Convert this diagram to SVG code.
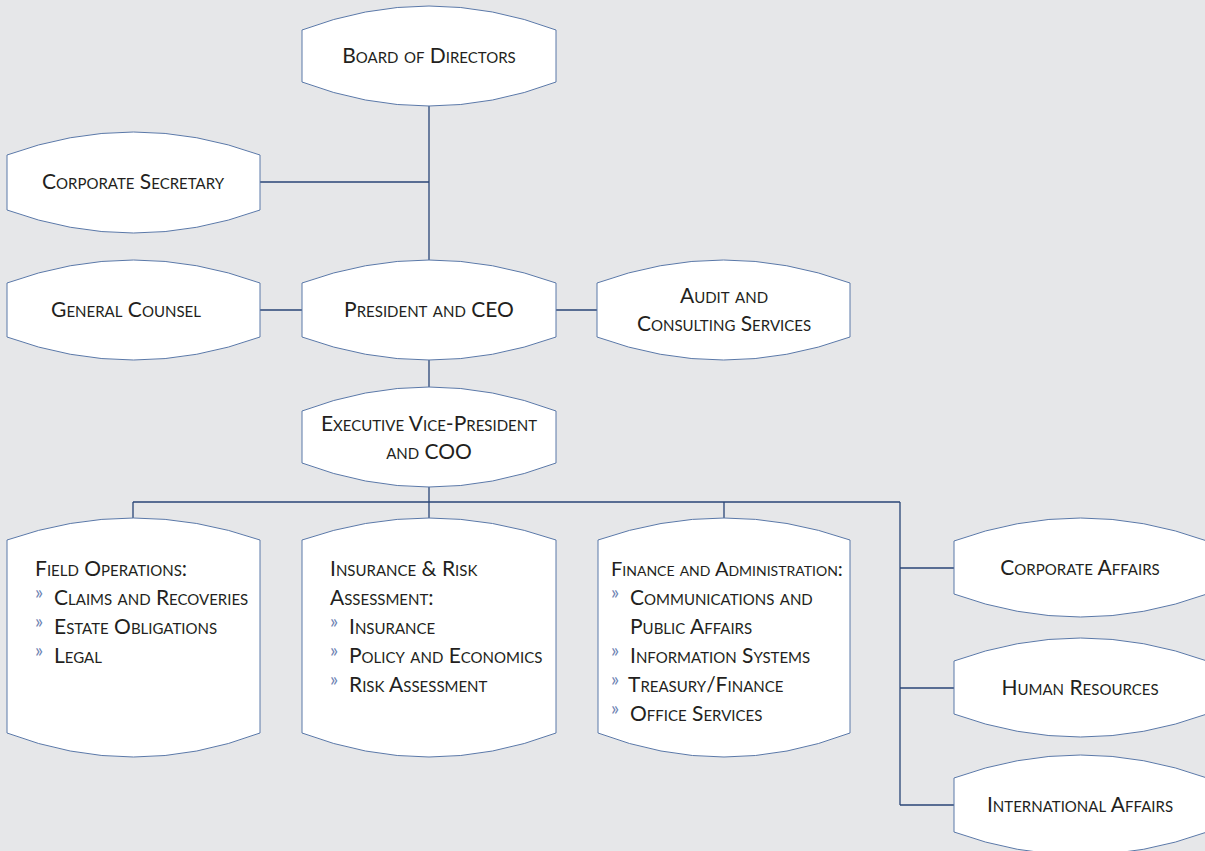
<svg xmlns="http://www.w3.org/2000/svg" width="1205" height="851" viewBox="0 0 1205 851">
<style>
.bg{fill:#e6e7e9}
.box{fill:#ffffff;stroke:#5a78a8;stroke-width:1}
.ln{fill:none;stroke:#2a4677;stroke-width:1.3}
text{font-family:"Lato","Open Sans","DejaVu Sans",sans-serif;font-variant:small-caps;font-size:21px;fill:#231f20}
.c{text-anchor:middle}
.g{fill:#6c82b2;font-size:19px;font-variant:normal}
</style>
<rect class="bg" x="0" y="0" width="1205" height="851"/>
<g id="connectors">
<path class="ln" d="M429,106 V260 M260,182 H429 M260,310 H302 M556,310 H597 M429,360 V387 M429,487 V502 M133,502 H900 M133,502 V518 M429,502 V518 M724,502 V518 M900,502 V805 M900,568 H954 M900,688 H954 M900,805 H954"/>
</g>
<g id="board">
<path class="box" d="M302,30 Q429,-18 556,30 L556,82 Q429,130 302,82 Z"/>
<text class="c" x="429" y="63">Board of Directors</text>
</g>
<g id="corporate-secretary">
<path class="box" d="M7,155 Q133.5,109 260,155 L260,210 Q133.5,256 7,210 Z"/>
<text class="c" x="133" y="189">Corporate Secretary</text>
</g>
<g id="general-counsel">
<path class="box" d="M7,283 Q133.5,237 260,283 L260,337 Q133.5,383 7,337 Z"/>
<text class="c" x="126" y="317">General Counsel</text>
</g>
<g id="president">
<path class="box" d="M302,283 Q429,237 556,283 L556,337 Q429,383 302,337 Z"/>
<text class="c" x="429" y="317">President and CEO</text>
</g>
<g id="audit">
<path class="box" d="M597,283 Q723.5,237 850,283 L850,337 Q723.5,383 597,337 Z"/>
<text class="c" x="724" y="303">Audit and</text>
<text class="c" x="724" y="331">Consulting Services</text>
</g>
<g id="evp">
<path class="box" d="M302,411 Q429,363 556,411 L556,463 Q429,511 302,463 Z"/>
<text class="c" x="429" y="431">Executive Vice-President</text>
<text class="c" x="429" y="459">and COO</text>
</g>
<g id="field-operations">
<path class="box" d="M7,540 Q133.5,496 260,540 L260,733 Q133.5,781 7,733 Z"/>
<text x="35" y="576">Field Operations:</text>
<text class="g" x="35" y="599">»</text><text x="54" y="605">Claims and Recoveries</text>
<text class="g" x="35" y="628">»</text><text x="54" y="634">Estate Obligations</text>
<text class="g" x="35" y="657">»</text><text x="54" y="663">Legal</text>
</g>
<g id="insurance-risk">
<path class="box" d="M302,540 Q429,496 556,540 L556,733 Q429,781 302,733 Z"/>
<text x="330" y="576">Insurance &amp; Risk</text>
<text x="330" y="605">Assessment:</text>
<text class="g" x="330" y="628">»</text><text x="349" y="634">Insurance</text>
<text class="g" x="330" y="657">»</text><text x="349" y="663">Policy and Economics</text>
<text class="g" x="330" y="686">»</text><text x="349" y="692">Risk Assessment</text>
</g>
<g id="finance-admin">
<path class="box" d="M598,540 Q724,496 850,540 L850,733 Q724,781 598,733 Z"/>
<text x="611" y="576" style="font-size:20px">Finance and Administration:</text>
<text class="g" x="611" y="599">»</text><text x="630" y="605">Communications and</text>
<text x="630" y="634">Public Affairs</text>
<text class="g" x="611" y="657">»</text><text x="630" y="663">Information Systems</text>
<text class="g" x="611" y="686">»</text><text x="628" y="692">Treasury/Finance</text>
<text class="g" x="611" y="715">»</text><text x="630" y="721">Office Services</text>
</g>
<g id="corporate-affairs">
<path class="box" d="M954,541 Q1080.5,495 1207,541 L1207,594 Q1080.5,640 954,594 Z"/>
<text class="c" x="1080" y="575">Corporate Affairs</text>
</g>
<g id="human-resources">
<path class="box" d="M954,661 Q1080.5,615 1207,661 L1207,714 Q1080.5,760 954,714 Z"/>
<text class="c" x="1080" y="695">Human Resources</text>
</g>
<g id="international-affairs">
<path class="box" d="M954,778 Q1080.5,732 1207,778 L1207,832 Q1080.5,878 954,832 Z"/>
<text class="c" x="1080" y="812">International Affairs</text>
</g>
</svg>
